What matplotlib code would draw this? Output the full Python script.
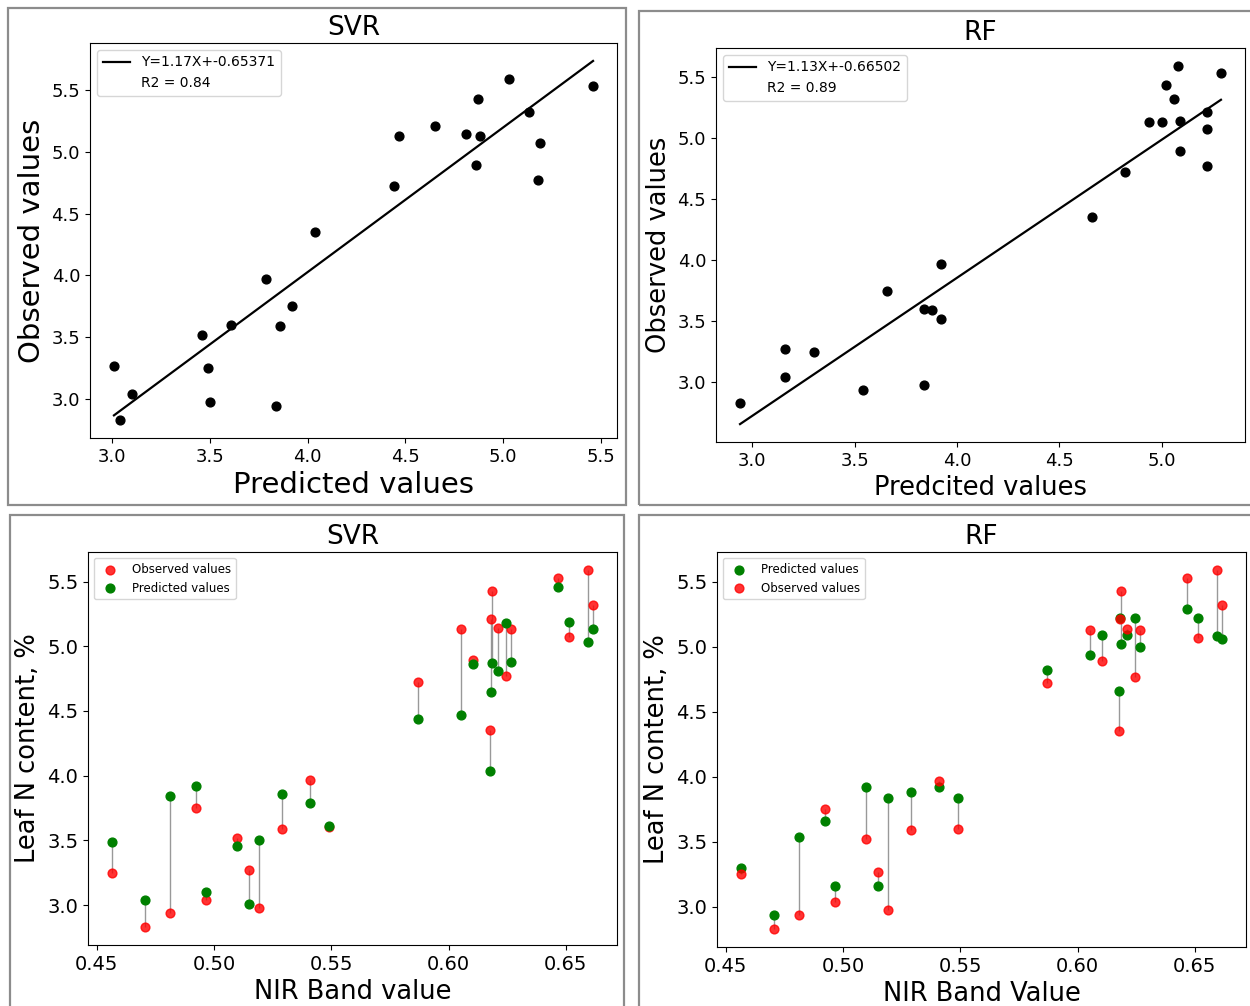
import matplotlib
matplotlib.use("Agg")
import matplotlib.pyplot as plt
from matplotlib.patches import Rectangle

# NIR band value for each of the 24 samples
nir = [0.4565, 0.4707, 0.4812, 0.4925, 0.4964, 0.5096, 0.5150, 0.5190,
       0.5288, 0.5411, 0.5490, 0.5870, 0.6053, 0.6106, 0.6175, 0.6182,
       0.6185, 0.6209, 0.6245, 0.6267, 0.6467, 0.6513, 0.6597, 0.6616]

# measured leaf N content (%)
observed = [3.25, 2.83, 2.94, 3.75, 3.04, 3.52, 3.27, 2.98,
            3.59, 3.97, 3.60, 4.72, 5.13, 4.89, 4.35, 5.21,
            5.43, 5.14, 4.77, 5.13, 5.53, 5.07, 5.59, 5.32]

svr_pred = [3.49, 3.04, 3.84, 3.92, 3.10, 3.46, 3.01, 3.50,
            3.86, 3.79, 3.61, 4.44, 4.47, 4.86, 4.04, 4.65,
            4.87, 4.81, 5.18, 4.88, 5.46, 5.19, 5.03, 5.13]

rf_pred = [3.30, 2.94, 3.54, 3.66, 3.16, 3.92, 3.16, 3.84,
           3.88, 3.92, 3.84, 4.82, 4.94, 5.09, 4.66, 5.22,
           5.02, 5.09, 5.22, 5.00, 5.29, 5.22, 5.08, 5.06]

# fitted line coefficients as printed on the charts
svr_fit = (1.17, -0.65371, 0.84)
rf_fit = (1.13, -0.66502, 0.89)

W, H = 1250, 1006
fig = plt.figure(figsize=(W / 100, H / 100), dpi=100)


def add_axes(left, top, right, bottom):
    return fig.add_axes([left / W, 1 - bottom / H, (right - left) / W, (bottom - top) / H])


def add_frame(left, top, right, bottom):
    fig.patches.append(Rectangle((left / W, 1 - bottom / H), (right - left) / W, (bottom - top) / H,
                                 transform=fig.transFigure, fill=False,
                                 edgecolor="#8c8c8c", linewidth=1.6))


add_frame(8, 8, 626, 505)
add_frame(639, 11, 1260, 505)
add_frame(10, 515, 624, 1015)
add_frame(639, 515, 1260, 1015)


def fit_panel(ax, pred, fit, title, xlabel, lab_size, tick_size):
    slope, icpt, r2 = fit
    ax.scatter(pred, observed, color="black", s=40, zorder=3)
    xs = [min(pred), max(pred)]
    ax.plot(xs, [slope * x + icpt for x in xs], color="black", lw=1.6,
            label=f"Y={slope:.2f}X+{icpt}")
    ax.plot([], [], " ", label=f"R2 = {r2}")
    ax.legend(loc="upper left", fontsize=10)
    ax.set_title(title, fontsize=19)
    ax.set_xlabel(xlabel, fontsize=lab_size)
    ax.set_ylabel("Observed values", fontsize=lab_size)
    ax.tick_params(labelsize=tick_size)


def nir_panel(ax, pred, title, xlabel, obs_first):
    ax.vlines(nir, observed, pred, color="gray", lw=1, alpha=0.8, zorder=1)
    obs_kw = dict(color="red", alpha=0.8, s=40, label="Observed values", zorder=2)
    pred_kw = dict(color="green", s=40, label="Predicted values", zorder=2)
    if obs_first:
        ax.scatter(nir, observed, **obs_kw)
        ax.scatter(nir, pred, **pred_kw)
    else:
        ax.scatter(nir, pred, **pred_kw)
        ax.scatter(nir, observed, **obs_kw)
    ax.legend(loc="upper left", fontsize=8.5)
    ax.set_title(title, fontsize=19)
    ax.set_xlabel(xlabel, fontsize=18.5)
    ax.set_ylabel("Leaf N content, %", fontsize=18.5)
    ax.tick_params(labelsize=14)


ax1 = add_axes(90, 43, 617, 438)
fit_panel(ax1, svr_pred, svr_fit, "SVR", "Predicted values", 21, 13)

ax2 = add_axes(716, 48, 1245, 442)
fit_panel(ax2, rf_pred, rf_fit, "RF", "Predcited values", 18.5, 13)

ax3 = add_axes(88, 552, 617, 945)
nir_panel(ax3, svr_pred, "SVR", "NIR Band value", True)
ax3.set_xticks([0.45, 0.50, 0.55, 0.60, 0.65])

ax4 = add_axes(717, 552, 1246, 947)
nir_panel(ax4, rf_pred, "RF", "NIR Band Value", False)
ax4.set_xticks([0.45, 0.50, 0.55, 0.60, 0.65])

fig.savefig("out.png", dpi=100)
